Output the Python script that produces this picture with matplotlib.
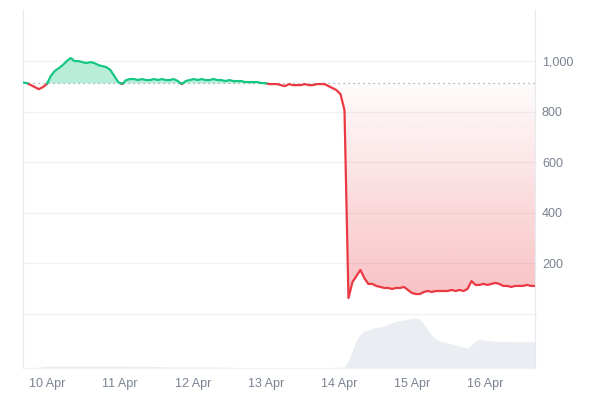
import numpy as np
import matplotlib
matplotlib.use("Agg")
import matplotlib.pyplot as plt
from matplotlib.path import Path

plt.rcParams["font.family"] = ["Liberation Sans", "DejaVu Sans"]

# ---- data ----
t_start, t_end = -0.33, 6.68          # days relative to 10 Apr 00:00
baseline = 912

price = [
    915, 913, 905, 897, 889, 897, 909, 941, 961, 972,
    984, 1000, 1012, 1000, 1000, 996, 992, 996, 992, 984,
    980, 976, 965, 941, 917, 909, 925, 929, 929, 925,
    929, 925, 925, 929, 925, 929, 925, 925, 929, 921,
    909, 921, 925, 929, 925, 929, 925, 925, 929, 925,
    925, 921, 925, 921, 921, 921, 917, 917, 917, 917,
    913, 913, 909, 909, 909, 905, 901, 909, 905, 905,
    905, 909, 905, 905, 909, 909, 909, 901, 893, 885,
    869, 806, 63, 126, 150, 174, 142, 119, 119, 111,
    107, 103, 103, 99, 103, 103, 107, 95, 83, 79,
    79, 87, 91, 87, 91, 91, 91, 91, 95, 91,
    95, 91, 99, 130, 115, 115, 119, 115, 119, 123,
    119, 111, 111, 107, 111, 111, 111, 115, 111, 111,
]

volume = [
    0.5, 0.5, 0.6, 0.8, 1.5, 3, 3.5, 4, 4, 4.2,
    4, 4, 4, 4.2, 4, 4, 4, 4, 4, 4,
    4, 4, 4, 4, 4, 4, 4, 3.8, 3.6, 3.5,
    3.4, 3.3, 3.2, 3.0, 3.0, 2.5, 2.2, 2, 2, 2,
    2, 2, 2, 2, 2, 2, 2, 2, 2, 2,
    1.8, 1.6, 1.5, 1.2, 1, 0.8, 0.6, 0.6, 0.6, 0.6,
    0.6, 0.6, 0.6, 0.6, 0.6, 0.6, 0.6, 0.6, 0.6, 0.6,
    0.6, 0.6, 0.6, 0.6, 0.6, 0.6, 0.7, 0.8, 1, 1.2,
    1.5, 2, 14, 36, 56, 68, 74, 76, 79, 81,
    82, 84, 88, 90, 93, 95, 96, 98, 99, 100,
    98, 88, 76, 66, 58, 54, 52, 50, 48, 46,
    44, 42, 40, 46, 54, 58, 56, 55, 54, 53,
    53, 54, 53, 53, 52, 53, 53, 52, 53, 53,
]

day_labels = ["10 Apr", "11 Apr", "12 Apr", "13 Apr", "14 Apr", "15 Apr", "16 Apr"]
price_ticks = [200, 400, 600, 800, 1000]

# ---- styling ----
GREEN = "#16c784"
RED = "#ea3943"
GRID = "#eff1f4"
SPINE = "#e6e9ee"
TEXT = "#7a8391"
VOLC = "#eaedf1"

t = np.linspace(t_start, t_end, len(price))
v = np.array(price, dtype=float)

# insert baseline crossings so colours switch exactly at the baseline
tt, vv = [t[0]], [v[0]]
for i in range(1, len(t)):
    if (v[i - 1] - baseline) * (v[i] - baseline) < 0:
        f = (baseline - v[i - 1]) / (v[i] - v[i - 1])
        tt.append(t[i - 1] + f * (t[i] - t[i - 1]))
        vv.append(baseline)
    tt.append(t[i])
    vv.append(v[i])
tt = np.array(tt)
vv = np.array(vv)

fig = plt.figure(figsize=(6, 4), dpi=100)
ax = fig.add_axes([23 / 600, 86 / 400, 512 / 600, 304 / 400])
axv = fig.add_axes([23 / 600, 32 / 400, 512 / 600, 54 / 400])

ymax = 1202
# price axes
ax.set_xlim(t_start, t_end)
ax.set_ylim(0, ymax)
for y in price_ticks:
    ax.axhline(y, color=GRID, lw=0.9, zorder=0)
ax.axhline(baseline, color="#9aa1aa", lw=0.9, ls=(0, (1, 3)), zorder=1)

ax.fill_between(tt, vv, baseline, where=vv >= baseline, interpolate=True,
                color=GREEN, alpha=0.3, lw=0, zorder=2)
poly = ax.fill_between(tt, vv, baseline, where=vv <= baseline, interpolate=True,
                       facecolor="none", lw=0, zorder=2)
paths = poly.get_paths()
if paths:
    cpath = Path.make_compound_path(*paths)
    n = 256
    grad = np.zeros((n, 1, 4))
    rgb = matplotlib.colors.to_rgb(RED)
    grad[:, 0, 0:3] = rgb
    grad[:, 0, 3] = np.linspace(0.32, 0.02, n)  # bottom -> top
    im = ax.imshow(grad, extent=[t_start, t_end, 40, baseline], origin="lower",
                   aspect="auto", zorder=2, interpolation="bilinear")
    im.set_clip_path(cpath, ax.transData)

green_line = np.ma.masked_where(vv < baseline, vv)
red_line = np.ma.masked_where(vv > baseline, vv)
ax.plot(tt, red_line, color=RED, lw=1.6, zorder=4, solid_joinstyle="round")
ax.plot(tt, green_line, color=GREEN, lw=1.6, zorder=4, solid_joinstyle="round")

ax.set_xlim(t_start, t_end)
ax.set_ylim(0, ymax)
ax.set_xticks([])
ax.yaxis.tick_right()
ax.set_yticks(price_ticks)
ax.set_yticklabels([f"{p:,}" for p in price_ticks])
ax.tick_params(axis="y", length=0, pad=5, labelsize=9, labelcolor=TEXT)
ax.spines["top"].set_visible(False)
ax.spines["bottom"].set_color(GRID)
ax.spines["left"].set_color(SPINE)
ax.spines["right"].set_color(SPINE)
for s in ax.spines.values():
    s.set_linewidth(0.9)

# volume axes
axv.fill_between(t, volume, 0, color=VOLC, lw=0)
axv.set_xlim(t_start, t_end)
axv.set_ylim(0, 108)
axv.set_yticks([])
axv.set_xticks(range(len(day_labels)))
axv.set_xticklabels(day_labels)
axv.tick_params(axis="x", length=0, pad=7, labelsize=9, labelcolor=TEXT)
axv.spines["top"].set_visible(False)
axv.spines["bottom"].set_color(GRID)
axv.spines["left"].set_color(SPINE)
axv.spines["right"].set_color(SPINE)
for s in axv.spines.values():
    s.set_linewidth(0.9)
axv.patch.set_alpha(0)

fig.savefig("out.png", dpi=100, facecolor="white")
